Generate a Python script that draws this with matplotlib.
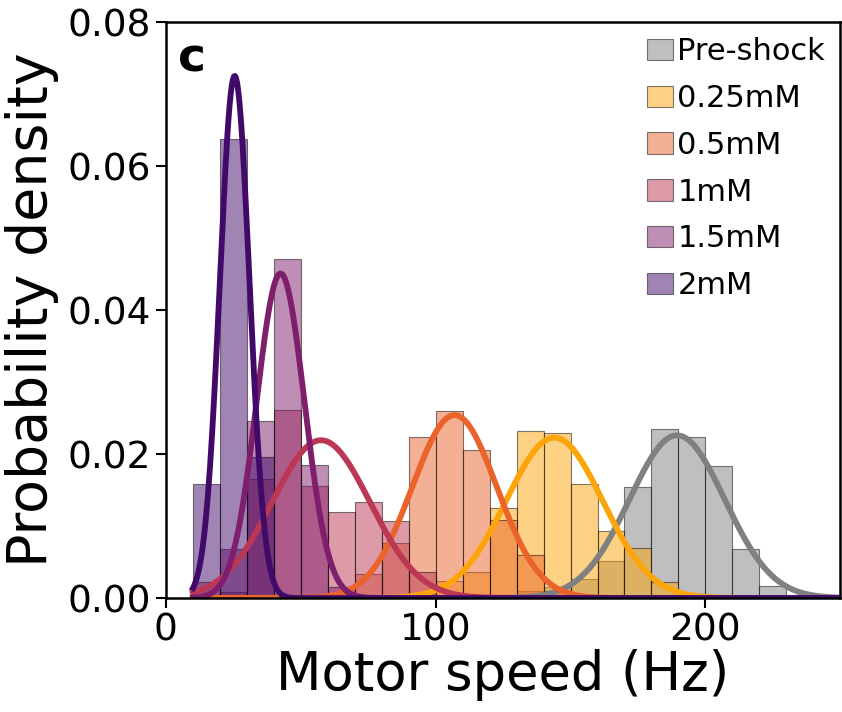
"""Motor speed distributions after shock at different concentrations"""
import matplotlib
matplotlib.use('Agg')
import matplotlib.pyplot as plt
import numpy as np

# histogram bins: left edges 10..240 Hz, width 10 Hz
bin_left = [10, 20, 30, 40, 50, 60, 70, 80, 90, 100, 110, 120,
            130, 140, 150, 160, 170, 180, 190, 200, 210, 220, 230, 240]
bin_width = 10

labels = ['Pre-shock', '0.25mM', '0.5mM', '1mM', '1.5mM', '2mM']

pre_shock = [0, 0, 0, 0, 0, 0, 0, 0, 0, 0, 0, 0,
             0.0010, 0.0015, 0.0026, 0.0052, 0.0154, 0.0235, 0.0224, 0.0183, 0.0068, 0.0017, 0.0004, 0]
mM_025 = [0, 0, 0, 0, 0, 0, 0, 0, 0.0005, 0.0024, 0.0036, 0.0125,
          0.0232, 0.0229, 0.0158, 0.0093, 0.0070, 0.0023, 0.0005, 0, 0, 0, 0, 0]
mM_05 = [0, 0, 0, 0, 0, 0.0005, 0.0033, 0.0076, 0.0224, 0.0260, 0.0206, 0.0108,
         0.0060, 0.0010, 0, 0, 0, 0, 0, 0, 0, 0, 0, 0]
mM_1 = [0.0023, 0.0008, 0.0165, 0.0261, 0.0155, 0.0119, 0.0134, 0.0107, 0.0036, 0, 0, 0,
        0, 0, 0, 0, 0, 0, 0, 0, 0, 0, 0, 0]
mM_15 = [0, 0.0068, 0.0246, 0.0471, 0.0185, 0.0015, 0, 0, 0, 0, 0, 0,
         0, 0, 0, 0, 0, 0, 0, 0, 0, 0, 0, 0]
mM_2 = [0.0159, 0.0638, 0.0196, 0, 0, 0, 0, 0, 0, 0, 0, 0,
        0, 0, 0, 0, 0, 0, 0, 0, 0, 0, 0, 0]

# fitted normal distributions (mean, std) in Hz
fit_mean = [189.5, 144.0, 107.0, 57.5, 42.5, 25.5]
fit_std = [17.65, 17.9, 15.7, 18.2, 8.85, 5.5]

colors = ['grey'] + [plt.cm.inferno(v) for v in [0.8, 0.65, 0.5, 0.35, 0.2]]


def generate():
    series = [pre_shock, mM_025, mM_05, mM_1, mM_15, mM_2]

    fig = plt.figure(figsize=(8.42, 7.12), dpi=100)
    ax = fig.add_axes([0.197, 0.160, 0.801, 0.809])

    for vals, col, lab in zip(series, colors, labels):
        ax.bar(bin_left, vals, width=bin_width, align='edge', color=col,
               alpha=0.5, edgecolor='black', linewidth=0.8, label=lab)

    xs = np.linspace(10, 250, 600)
    for mu, sd, col in zip(fit_mean, fit_std, colors):
        pdf = np.exp(-0.5 * ((xs - mu) / sd) ** 2) / (sd * np.sqrt(2 * np.pi))
        ax.plot(xs, pdf, color=col, lw=4.2)

    ax.set_xlim(0, 250)
    ax.set_ylim(0, 0.08)
    ax.set_xticks([0, 100, 200])
    ax.set_yticks([0, 0.02, 0.04, 0.06, 0.08])
    ax.set_yticklabels(['0.00', '0.02', '0.04', '0.06', '0.08'])
    ax.tick_params(labelsize=27, length=7, width=1.5)
    for sp in ax.spines.values():
        sp.set_linewidth(1.8)

    ax.set_xlabel('Motor speed (Hz)', fontsize=38, labelpad=0)
    ax.set_ylabel('Probability density', fontsize=40, labelpad=6)

    ax.text(0.018, 0.975, 'c', transform=ax.transAxes, fontsize=34,
            fontweight='bold', va='top', ha='left')

    ax.legend(loc='upper right', frameon=False, fontsize=22, borderaxespad=0.1,
              handlelength=0.85, handletextpad=0.15, labelspacing=0.58)

    fig.savefig('out.png', dpi=100)
    plt.close(fig)


if __name__ == '__main__':
    generate()
